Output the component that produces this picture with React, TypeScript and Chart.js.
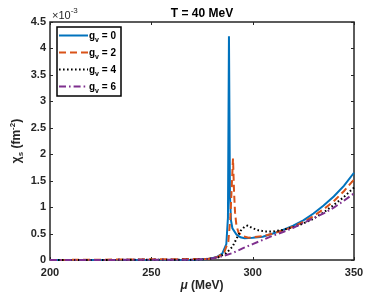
import React, { useEffect, useRef } from "react";
import { Chart, registerables } from "chart.js";

Chart.register(...registerables);

const muG0 = [200, 270, 278, 282, 285, 287, 287.8, 288.3, 288.8, 289.3, 290, 292, 294, 296, 300, 305, 310, 315, 320, 325, 330, 335, 340, 345, 350];
const chiG0 = [0, 0.005, 0.02, 0.05, 0.12, 0.3, 0.8, 4.23, 1.2, 0.75, 0.6, 0.48, 0.43, 0.41, 0.42, 0.44, 0.5, 0.57, 0.65, 0.75, 0.88, 1.03, 1.2, 1.4, 1.65];

const muG2 = [200, 278, 283, 286, 288, 289, 289.8, 290.3, 290.8, 291.3, 292, 293, 295, 298, 300, 305, 310, 315, 320, 325, 330, 335, 340, 345, 350];
const chiG2 = [0, 0.02, 0.06, 0.15, 0.35, 0.8, 1.5, 1.92, 1.3, 0.9, 0.65, 0.52, 0.45, 0.42, 0.43, 0.45, 0.5, 0.56, 0.63, 0.72, 0.83, 0.96, 1.11, 1.3, 1.52];

const muG4 = [200, 270, 278, 283, 287, 290, 292, 294, 296, 297.5, 300, 303, 306, 310, 315, 320, 325, 330, 335, 340, 345, 350];
const chiG4 = [0, 0.005, 0.02, 0.05, 0.13, 0.25, 0.4, 0.55, 0.63, 0.65, 0.6, 0.56, 0.54, 0.54, 0.57, 0.62, 0.69, 0.78, 0.9, 1.04, 1.19, 1.37];

const muG6 = [200, 270, 276, 280, 285, 290, 295, 300, 305, 310, 315, 320, 325, 330, 335, 340, 345, 350];
const chiG6 = [0, 0.005, 0.015, 0.03, 0.07, 0.13, 0.22, 0.3, 0.38, 0.46, 0.53, 0.61, 0.7, 0.79, 0.88, 0.99, 1.12, 1.26];

const seriesLabels = ["0", "2", "4", "6"];
const xTicks = [200, 250, 300, 350];
const yTicks = [0, 0.5, 1, 1.5, 2, 2.5, 3, 3.5, 4, 4.5];

const colors = ["#0072BD", "#D95319", "#000000", "#7E2F8E"];
const dashes: number[][] = [[], [7, 4], [1.6, 2.4], [7, 3, 1.6, 3]];
const AX = "#262626";
const FONT = "'Liberation Sans', Arial, sans-serif";

function pts(xs: number[], ys: number[]) {
  return xs.map((x, i) => ({ x, y: ys[i] }));
}

const decor = {
  id: "decor",
  beforeDatasetsDraw(chart: any) {
    const ctx = chart.ctx as CanvasRenderingContext2D;
    const { left, right, top, bottom } = chart.chartArea;
    const xs = chart.scales.x;
    const ys = chart.scales.y;
    ctx.save();
    ctx.strokeStyle = AX;
    ctx.lineWidth = 1.5;
    ctx.strokeRect(left, top, right - left, bottom - top);
    ctx.lineWidth = 1;
    ctx.beginPath();
    xTicks.forEach((v) => {
      const px = Math.round(xs.getPixelForValue(v)) + 0.5;
      ctx.moveTo(px, bottom);
      ctx.lineTo(px, bottom - 3);
      ctx.moveTo(px, top);
      ctx.lineTo(px, top + 3);
    });
    yTicks.forEach((v) => {
      const py = Math.round(ys.getPixelForValue(v)) + 0.5;
      ctx.moveTo(left, py);
      ctx.lineTo(left + 3, py);
      ctx.moveTo(right, py);
      ctx.lineTo(right - 3, py);
    });
    ctx.stroke();
    ctx.restore();
  },
  afterDraw(chart: any) {
    const ctx = chart.ctx as CanvasRenderingContext2D;
    const { left, right, top, bottom } = chart.chartArea;
    ctx.save();
    ctx.textBaseline = "alphabetic";
    // title
    ctx.font = `bold 12px ${FONT}`;
    ctx.textAlign = "center";
    ctx.fillStyle = "#000";
    ctx.fillText("T = 40 MeV", (left + right) / 2, 17);
    // x10^-3
    ctx.fillStyle = AX;
    ctx.textAlign = "left";
    ctx.font = `11px ${FONT}`;
    ctx.fillText("\u00d710", left + 2, 19);
    const w10 = ctx.measureText("\u00d710").width;
    ctx.font = `8px ${FONT}`;
    ctx.fillText("-3", left + 2 + w10, 13);

    // x label
    ctx.font = `italic bold 12px ${FONT}`;
    const muW = ctx.measureText("\u03bc").width;
    ctx.font = `bold 12px ${FONT}`;
    const restW = ctx.measureText(" (MeV)").width;
    const cx = (left + right) / 2;
    const sx = cx - (muW + restW) / 2;
    ctx.font = `italic bold 12px ${FONT}`;
    ctx.fillText("\u03bc", sx, 289);
    ctx.font = `bold 12px ${FONT}`;
    ctx.fillText(" (MeV)", sx + muW, 289);

    // y label rotated
    ctx.save();
    ctx.translate(20, (top + bottom) / 2);
    ctx.rotate(-Math.PI / 2);
    const parts: [string, string, number][] = [
      ["\u03c7", `bold 12px ${FONT}`, 0],
      ["s", `bold 8px ${FONT}`, 3],
      [" (fm", `bold 12px ${FONT}`, 0],
      ["-2", `bold 8px ${FONT}`, -5],
      [")", `bold 12px ${FONT}`, 0],
    ];
    let tot = 0;
    parts.forEach(([t, f]) => {
      ctx.font = f;
      tot += ctx.measureText(t).width;
    });
    let px = -tot / 2;
    parts.forEach(([t, f, dy]) => {
      ctx.font = f;
      ctx.fillText(t, px, dy);
      px += ctx.measureText(t).width;
    });
    ctx.restore();

    // legend
    const lx = left + 7, ly = top + 5, lw = 64, lh = 69;
    ctx.fillStyle = "#fff";
    ctx.fillRect(lx, ly, lw, lh);
    ctx.strokeStyle = "#000";
    ctx.lineWidth = 1.5;
    ctx.strokeRect(lx, ly, lw, lh);
    seriesLabels.forEach((lab, i) => {
      const yy = ly + 8.5 + i * 17;
      ctx.save();
      ctx.strokeStyle = colors[i];
      ctx.lineWidth = 2;
      ctx.setLineDash(dashes[i]);
      ctx.beginPath();
      ctx.moveTo(lx + 2, yy);
      ctx.lineTo(lx + 31, yy);
      ctx.stroke();
      ctx.restore();
      ctx.fillStyle = "#000";
      ctx.textAlign = "left";
      ctx.font = `bold 10px ${FONT}`;
      let tx = lx + 32;
      ctx.fillText("g", tx, yy + 3);
      tx += ctx.measureText("g").width;
      ctx.font = `bold 7px ${FONT}`;
      ctx.fillText("v", tx, yy + 6);
      tx += ctx.measureText("v").width;
      ctx.font = `bold 10px ${FONT}`;
      ctx.fillText(" = " + lab, tx, yy + 3);
    });
    ctx.restore();
  },
};

export default function App() {
  const ref = useRef<HTMLCanvasElement>(null);
  useEffect(() => {
    if (!ref.current) return;
    const sets = [
      pts(muG0, chiG0),
      pts(muG2, chiG2),
      pts(muG4, chiG4),
      pts(muG6, chiG6),
    ];
    const order = [3, 2, 1, 0];
    const chart = new Chart(ref.current, {
      type: "line",
      data: {
        datasets: order.map((i) => ({
          label: "g_v = " + seriesLabels[i],
          data: sets[i],
          borderColor: colors[i],
          borderWidth: 2,
          borderDash: dashes[i],
          pointRadius: 0,
          fill: false,
          tension: 0,
          clip: 3,
        })),
      },
      options: {
        responsive: false,
        animation: false,
        layout: { padding: { left: 0, right: 38, top: 22, bottom: 0 } },
        plugins: { legend: { display: false }, title: { display: false }, tooltip: { enabled: false } },
        scales: {
          x: {
            type: "linear",
            min: 200,
            max: 350,
            grid: { display: false, drawTicks: false },
            border: { display: false },
            afterBuildTicks: (s: any) => {
              s.ticks = xTicks.map((v) => ({ value: v }));
            },
            afterFit: (s: any) => {
              s.height = 34;
            },
            ticks: {
              color: AX,
              font: { family: FONT, size: 11, weight: "bold" },
              padding: 6,
              maxRotation: 0,
            },
          },
          y: {
            type: "linear",
            min: 0,
            max: 4.5,
            grid: { display: false, drawTicks: false },
            border: { display: false },
            afterBuildTicks: (s: any) => {
              s.ticks = yTicks.map((v) => ({ value: v }));
            },
            afterFit: (s: any) => {
              s.width = 50;
            },
            ticks: {
              color: AX,
              font: { family: FONT, size: 11, weight: "bold" },
              padding: 4,
              callback: (v: any) => String(v),
            },
          },
        },
      },
      plugins: [decor],
    });
    return () => chart.destroy();
  }, []);
  return (
    <div style={{ position: "fixed", left: 0, top: 0, width: 392, height: 294, background: "#fff" }}>
      <canvas ref={ref} width={392} height={294} style={{ display: "block" }} />
    </div>
  );
}
